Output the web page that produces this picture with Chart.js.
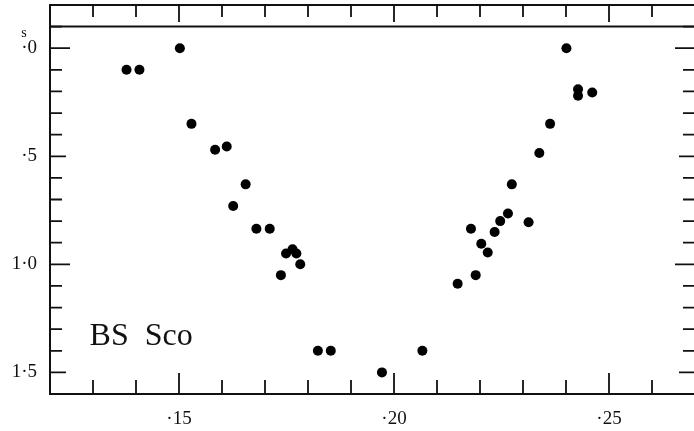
<!DOCTYPE html>
<html lang="en">
<head>
    <meta charset="UTF-8">
    <title>BS Sco</title>
    <script src="https://cdn.jsdelivr.net/npm/chart.js"></script>
    <style>
        html, body { margin: 0; padding: 0; background: #fff; overflow: hidden; }
        canvas { display: block; }
    </style>
</head>
<body>
<canvas id="lc" width="700" height="431"></canvas>

<script>
    // phase (x) and magnitude (y, seconds of mag)
    const phase = [13.78, 14.08, 15.02, 15.29, 15.84, 16.11, 16.26, 16.55, 16.80, 17.11,
                   17.37, 17.49, 17.64, 17.73, 17.82, 18.23, 18.53, 19.72, 20.66, 21.48,
                   21.79, 21.90, 22.03, 22.18, 22.34, 22.47, 22.65, 22.74, 23.13, 23.38,
                   23.63, 24.01, 24.28, 24.28, 24.61];
    const mag = [0.10, 0.10, 0.00, 0.35, 0.47, 0.455, 0.73, 0.63, 0.835, 0.835,
                 1.05, 0.95, 0.93, 0.95, 1.00, 1.40, 1.40, 1.50, 1.40, 1.09,
                 0.835, 1.05, 0.905, 0.945, 0.85, 0.80, 0.765, 0.63, 0.805, 0.485,
                 0.35, 0.00, 0.19, 0.22, 0.205];

    const xLabels = { 15: '·15', 20: '·20', 25: '·25' };
    const yLabels = { 0: '·0', 5: '·5', 10: '1·0', 15: '1·5' };
    const starName = 'BS  Sco';

    const ink = '#111';
    const serif = '"Liberation Serif", "DejaVu Serif", serif';

    // frame + inward ticks, drawn from the chart's own scales
    const framePlugin = {
        id: 'frame',
        afterDraw(chart) {
            const { ctx, chartArea: a, scales: { x, y } } = chart;
            ctx.save();
            ctx.strokeStyle = ink;
            ctx.lineWidth = 2;
            ctx.beginPath();
            ctx.rect(a.left, a.top, a.right - a.left, a.bottom - a.top);
            const yl = y.getPixelForValue(-0.1);
            ctx.moveTo(a.left, yl);
            ctx.lineTo(a.right, yl);
            ctx.stroke();

            ctx.lineWidth = 1.8;
            ctx.beginPath();
            x.ticks.forEach(t => {
                if (t.value <= x.min || t.value >= x.max) return;
                const px = x.getPixelForValue(t.value);
                const big = Math.round(t.value) % 5 === 0;
                ctx.moveTo(px, a.bottom);
                ctx.lineTo(px, a.bottom - (big ? 21 : 14));
                ctx.moveTo(px, a.top);
                ctx.lineTo(px, a.top + (big ? 17 : 12));
            });
            y.ticks.forEach(t => {
                if (t.value <= y.min + 0.05 || t.value >= y.max - 0.05) return;
                const py = y.getPixelForValue(t.value);
                const k = Math.round(t.value * 10);
                const len = k % 10 === 0 ? 20 : (k % 5 === 0 ? 16 : 12);
                ctx.moveTo(a.left, py);
                ctx.lineTo(a.left + len, py);
                ctx.moveTo(a.right, py);
                ctx.lineTo(a.right - len, py);
            });
            ctx.stroke();

            // unit mark above the zero label
            ctx.fillStyle = ink;
            ctx.font = '14px ' + serif;
            ctx.textAlign = 'center';
            ctx.textBaseline = 'middle';
            ctx.fillText('s', 24, y.getPixelForValue(0) - 15);

            // star name
            ctx.font = '32px ' + serif;
            ctx.textAlign = 'left';
            ctx.textBaseline = 'alphabetic';
            ctx.fillText(starName, x.getPixelForValue(12.92), y.getPixelForValue(1.373));
            ctx.restore();
        }
    };

    const points = phase.map((p, i) => ({ x: p, y: mag[i] }));

    new Chart(document.getElementById('lc'), {
        type: 'scatter',
        data: {
            datasets: [{
                data: points,
                pointRadius: 5,
                pointBackgroundColor: '#000',
                pointBorderWidth: 0
            }]
        },
        options: {
            responsive: false,
            animation: false,
            layout: { padding: { top: 5, right: 1, left: 0, bottom: 0 } },
            plugins: { legend: { display: false }, tooltip: { enabled: false } },
            scales: {
                x: {
                    type: 'linear', min: 12, max: 27,
                    grid: { display: false, drawTicks: false },
                    border: { display: false },
                    ticks: {
                        stepSize: 1, autoSkip: false, maxRotation: 0,
                        padding: 14, color: ink,
                        font: { family: serif, size: 19 },
                        callback: v => xLabels[Math.round(v)] || ''
                    },
                    afterFit: s => { s.height = 37; s.paddingLeft = 0; s.paddingRight = 0; }
                },
                y: {
                    type: 'linear', reverse: true, min: -0.2, max: 1.6,
                    grid: { display: false, drawTicks: false },
                    border: { display: false },
                    ticks: {
                        stepSize: 0.1, autoSkip: false,
                        padding: 13, color: ink,
                        font: { family: serif, size: 19 },
                        callback: v => {
                            const k = Math.round(v * 10);
                            return yLabels[k] !== undefined ? yLabels[k] : '';
                        }
                    },
                    afterFit: s => { s.width = 50; s.paddingTop = 0; s.paddingBottom = 0; }
                }
            }
        },
        plugins: [framePlugin]
    });
</script>
</body>
</html>
